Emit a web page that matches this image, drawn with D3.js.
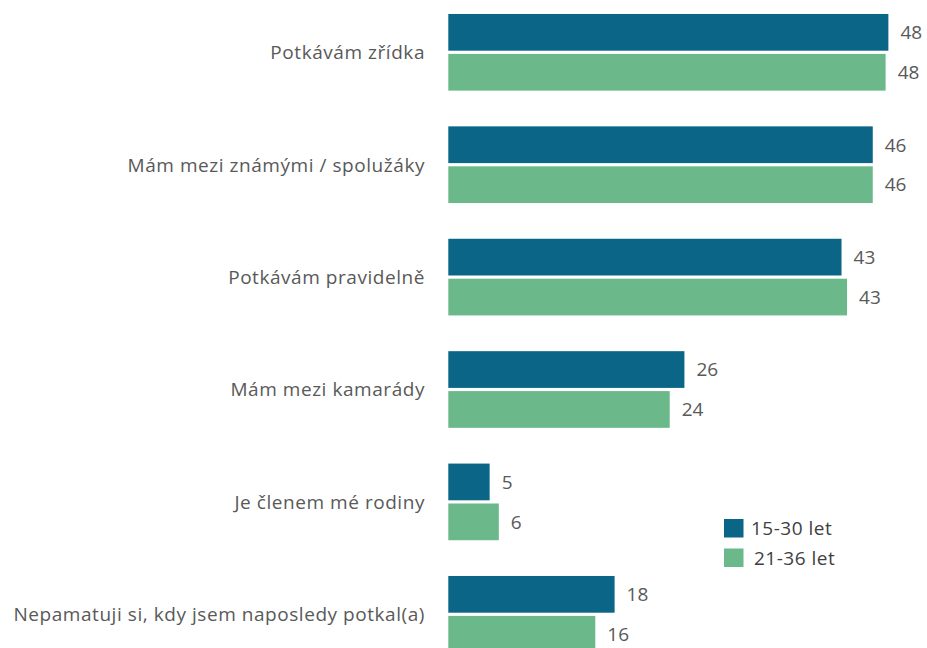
<!DOCTYPE html>
<html>
<head>
<meta charset="utf-8">
<script src="https://cdn.jsdelivr.net/npm/d3@7"></script>
<style>
  html, body { margin: 0; padding: 0; background: #fff; }
  svg { display: block; }
  text { font-family: "Open Sans", "Noto Sans", sans-serif; }
</style>
</head>
<body>
<svg id="chart" width="927" height="648"></svg>
<script>
const categories = [
  "Potkávám zřídka",
  "Mám mezi známými / spolužáky",
  "Potkávám pravidelně",
  "Mám mezi kamarády",
  "Je členem mé rodiny",
  "Nepamatuji si, kdy jsem naposledy potkal(a)"
];
const seriesNames = ["15-30 let", "21-36 let"];
const values1530 = [47.9, 46.2, 42.8, 25.7, 4.5, 18.1];
const values2136 = [47.6, 46.2, 43.4, 24.1, 5.5, 16.0];
const colors = ["#0b6586", "#6bb98a"];

const svg = d3.select("#chart");

const x = d3.scaleLinear().domain([0, 48]).range([448.3, 889.3]);
const y = d3.scaleBand().domain(categories).range([-3.9, 670.5]).paddingInner(0.318).paddingOuter(0.159);
const ys = d3.scaleBand().domain(seriesNames).range([0, y.bandwidth()]).paddingInner(0.08);

const series = [values1530, values2136];
const fmt = v => Math.round(v).toString();

categories.forEach((c, i) => {
  const g = svg.append("g").attr("transform", `translate(0,${y(c)})`);
  series.forEach((vals, s) => {
    const yy = ys(seriesNames[s]);
    g.append("rect")
      .attr("x", x(0))
      .attr("y", yy)
      .attr("width", x(vals[i]) - x(0))
      .attr("height", ys.bandwidth())
      .attr("fill", colors[s]);
    g.append("text")
      .attr("x", x(vals[i]) + 12)
      .attr("y", yy + ys.bandwidth() / 2)
      .attr("dy", "0.36em")
      .attr("font-size", 19)
      .attr("fill", "#595959")
      .text(fmt(vals[i]));
  });
  svg.append("text")
    .attr("x", 425)
    .attr("y", y(c) + y.bandwidth() / 2)
    .attr("dy", "0.36em")
    .attr("text-anchor", "end")
    .attr("font-size", 19)
    .attr("letter-spacing", "0.55px")
    .attr("fill", "#595959")
    .text(c);
});

// Legend
const legend = svg.append("g").attr("transform", "translate(724,519)");
seriesNames.forEach((n, s) => {
  const lg = legend.append("g").attr("transform", `translate(0,${s * 29.5})`);
  lg.append("rect").attr("width", 19.5).attr("height", 18.5).attr("fill", colors[s]);
  lg.append("text")
    .attr("x", 27 + s * 3)
    .attr("y", 9.5)
    .attr("dy", "0.36em")
    .attr("font-size", 19)
    .attr("letter-spacing", "0.5px")
    .attr("fill", "#404040")
    .text(n);
});
</script>
</body>
</html>
